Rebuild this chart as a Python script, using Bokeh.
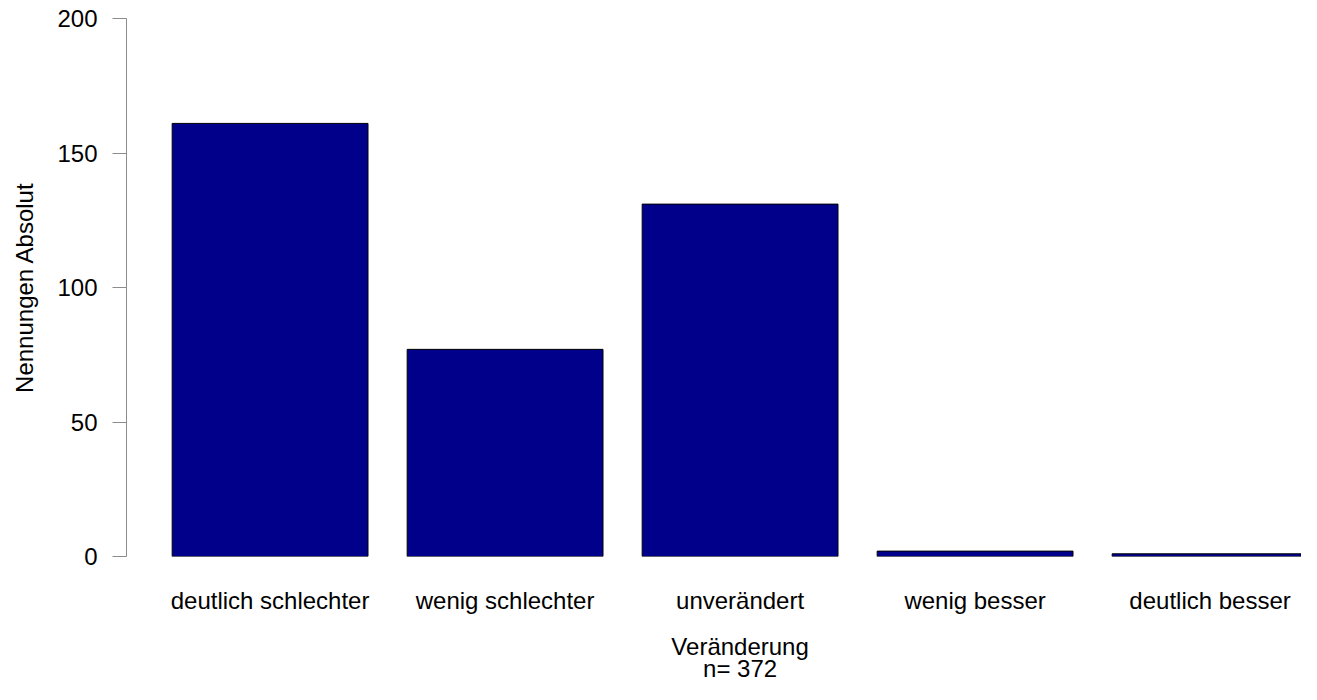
from bokeh.plotting import figure
from bokeh.layouts import column
from bokeh.models import Range1d, FixedTicker
from bokeh.core.properties import value
from bokeh.embed import file_html
from bokeh.resources import INLINE

# ---- data ----
categories = ["deutlich schlechter", "wenig schlechter", "unverändert", "wenig besser", "deutlich besser"]
counts = [161, 77, 131, 2, 1]
y_ticks = [0, 50, 100, 150, 200]
x_title = "Veränderung"
n_label = "n= 372"
y_title = "Nennungen Absolut"

FONT = "Liberation Sans"
FS = "24px"
W = 1301
TOP_H = 616
BOT_H = 68

xs = list(range(len(categories)))
bar_width = 1 / 1.2  # R barplot: width 1, space 0.2
xr = Range1d(-0.611, 4.389)

p = figure(width=W, height=TOP_H, title=None,
           x_range=xr, y_range=Range1d(0, 200),
           output_backend="svg", toolbar_location=None,
           min_border_left=126, min_border_right=0,
           min_border_top=18, min_border_bottom=TOP_H - 18 - 538)
p.outline_line_color = None
p.xgrid.visible = False
p.ygrid.visible = False

p.vbar(x=xs, top=counts, bottom=0, width=bar_width,
       fill_color="#00008B", line_color="black", line_width=1)

# y axis
ya = p.yaxis[0]
ya.ticker = FixedTicker(ticks=y_ticks)
ya.axis_line_color = "#8c8c8c"
ya.major_tick_line_color = "#8c8c8c"
ya.major_tick_out = 14
ya.major_tick_in = 0
ya.minor_tick_line_color = None
ya.major_label_text_font = FONT
ya.major_label_text_font_size = FS
ya.major_label_text_color = "black"
ya.major_label_standoff = 15
ya.axis_label = y_title
ya.axis_label_text_font = FONT
ya.axis_label_text_font_size = FS
ya.axis_label_text_font_style = "normal"
ya.axis_label_text_color = "black"
ya.axis_label_standoff = 16

# x axis (category labels only)
xa = p.xaxis[0]
xa.ticker = FixedTicker(ticks=xs)
xa.major_label_overrides = {i: c for i, c in zip(xs, categories)}
xa.axis_line_color = None
xa.major_tick_line_color = None
xa.minor_tick_line_color = None
xa.major_tick_out = 0
xa.major_tick_in = 0
xa.major_label_text_font = FONT
xa.major_label_text_font_size = FS
xa.major_label_text_color = "black"
xa.major_label_standoff = 30

# strip below for the x title (centred under the middle category)
p2 = figure(width=W, height=BOT_H, title=None,
            x_range=xr, y_range=Range1d(0, BOT_H),
            output_backend="svg", toolbar_location=None,
            x_axis_location=None, y_axis_location=None,
            min_border_left=126, min_border_right=0,
            min_border_top=0, min_border_bottom=0)
p2.outline_line_color = None
p2.xgrid.visible = False
p2.ygrid.visible = False
mid = xs[len(xs) // 2]
p2.text(x=[mid, mid], y=[38, 16], text=[x_title, n_label],
        text_align="center", text_baseline="alphabetic",
        text_font=value(FONT), text_font_size=FS, text_color="black")

layout = column(p, p2, spacing=0)
open("out.html", "w").write(file_html(layout, INLINE))
